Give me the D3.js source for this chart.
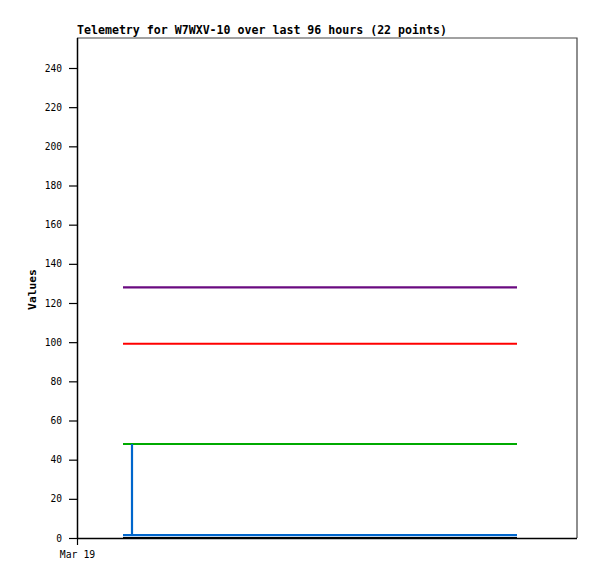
<!DOCTYPE html>
<html><head><meta charset="utf-8">
<script src="https://cdn.jsdelivr.net/npm/d3@7"></script>
<style>body{margin:0;background:#fff;} svg{display:block;}</style>
</head><body>
<script>
const title = "Telemetry for W7WXV-10 over last 96 hours (22 points)";
const yLabel = "Values";
const yTicks = [0,20,40,60,80,100,120,140,160,180,200,220,240];
const xTickHours = [0];
const xTickLabels = ["Mar 19"];
// hours since Mar 19 00:00
const times = [8.8,10.6,14.2,18.0,21.5,25.3,29.0,32.6,36.4,40.1,43.7,47.5,51.2,54.8,58.6,62.3,66.0,69.7,73.4,77.1,80.8,84.5];
const purple = [128,128,128,128,128,128,128,128,128,128,128,128,128,128,128,128,128,128,128,128,128,128];
const red    = [99.2,99.2,99.2,99.2,99.2,99.2,99.2,99.2,99.2,99.2,99.2,99.2,99.2,99.2,99.2,99.2,99.2,99.2,99.2,99.2,99.2,99.2];
const green  = [48,48,48,48,48,48,48,48,48,48,48,48,48,48,48,48,48,48,48,48,48,48];
const black  = [0,0,0,0,0,0,0,0,0,0,0,0,0,0,0,0,0,0,0,0,0,0];
// blue series (order as recorded)
const blueTimes = [10.6,10.6,8.8,14.2,18.0,21.5,25.3,29.0,32.6,36.4,40.1,43.7,47.5,51.2,54.8,58.6,62.3,66.0,69.7,73.4,77.1,80.8,84.5];
const blue      = [48,1.5,1.5,1.5,1.5,1.5,1.5,1.5,1.5,1.5,1.5,1.5,1.5,1.5,1.5,1.5,1.5,1.5,1.5,1.5,1.5,1.5,1.5];

const W=597,H=579, L=77,R=577,T=38,B=538;
const svg=d3.select("body").append("svg").attr("width",W).attr("height",H);
svg.append("rect").attr("width",W).attr("height",H).attr("fill","#fff");
const x=d3.scaleLinear().domain([0,96]).range([L,R]);
const y=d3.scaleLinear().domain([0,240*(B-T)/(B-68)]).range([B,T]);

// frame
svg.append("path").attr("d",`M${L},${T}H${R}V${B}`).attr("fill","none").attr("stroke","#444").attr("stroke-width",1.2);

const line=d3.line().x(d=>Math.round(x(d[0]))).y(d=>y(d[1]));
function draw(ts,vs,color){
  svg.append("path").datum(ts.map((t,i)=>[t,vs[i]])).attr("d",line)
    .attr("fill","none").attr("stroke",color).attr("stroke-width",2.2);
}
draw(times,purple,"#6a0a80");
draw(times,red,"#ff0000");
draw(times,green,"#00aa00");
draw(blueTimes,blue,"#0066cc");
draw(times,black,"#000000");

// y axis
const ya=svg.append("g").attr("transform",`translate(${L},0)`)
  .call(d3.axisLeft(y).tickValues(yTicks).tickSize(8).tickPadding(7).tickSizeOuter(0));
ya.select(".domain").attr("d",`M0.5,${T}V${B}`).attr("stroke","#000").attr("stroke-width",1.5);
ya.selectAll(".tick line").attr("stroke","#000").attr("stroke-width",1.2);
ya.selectAll(".tick text").attr("font-family","DejaVu Sans Mono").attr("font-size","9.6px").attr("fill","#000");

// x axis
const xa=svg.append("g").attr("transform",`translate(0,${B})`)
  .call(d3.axisBottom(x).tickValues(xTickHours).tickFormat((d,i)=>xTickLabels[i]).tickSize(7).tickPadding(6).tickSizeOuter(0));
xa.select(".domain").attr("d",`M${L},0.5H${R}`).attr("stroke","#000").attr("stroke-width",1.5);
xa.selectAll(".tick line").attr("stroke","#000").attr("stroke-width",1.2);
xa.selectAll(".tick text").attr("font-family","DejaVu Sans Mono").attr("font-size","9.8px").attr("fill","#000");

svg.append("text").attr("x",L).attr("y",34).text(title)
  .attr("font-family","DejaVu Sans Mono").attr("font-weight","bold").attr("font-size","11.6px");
svg.append("text").attr("transform",`translate(35.5,289.5) rotate(-90)`).attr("text-anchor","middle").text(yLabel)
  .attr("font-family","DejaVu Sans Mono").attr("font-weight","bold").attr("font-size","11.3px");
</script>
</body></html>
